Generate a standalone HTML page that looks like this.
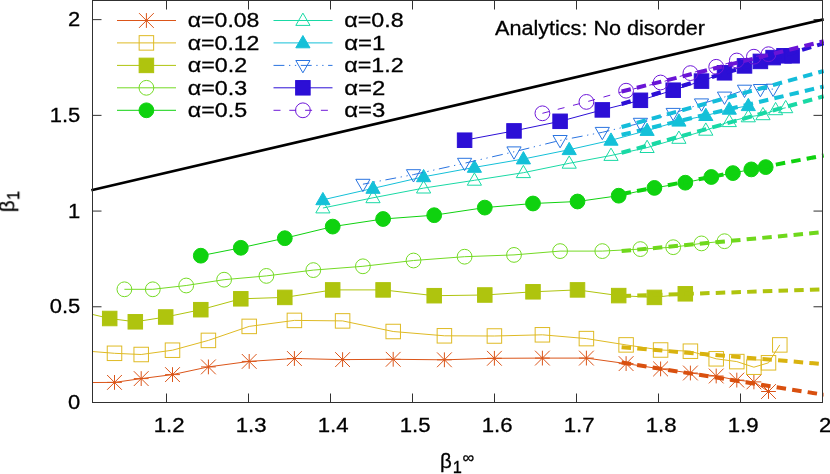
<!DOCTYPE html>
<html><head><meta charset="utf-8"><title>chart</title>
<style>html,body{margin:0;padding:0;background:#fff;}body{width:830px;height:474px;overflow:hidden;font-family:"Liberation Sans", sans-serif;}</style>
</head><body>
<svg width="830" height="474" viewBox="0 0 830 474" style="display:block;font-family:'Liberation Sans',sans-serif">
<rect width="830" height="474" fill="#fff"/>
<defs><mask id="mk" maskUnits="userSpaceOnUse" x="0" y="0" width="830" height="474"><rect width="830" height="474" fill="#fff"/></mask><clipPath id="cp2"><rect x="92.5" y="0.5" width="731.6" height="402.0"/></clipPath><clipPath id="cp"><rect x="92.5" y="0.5" width="730.0" height="402.0"/></clipPath></defs>
<g mask="url(#mk)">
<path d="M166.50 402.5V393.5M166.50 0.5V9.5M248.50 402.5V393.5M248.50 0.5V9.5M330.50 402.5V393.5M330.50 0.5V9.5M412.50 402.5V393.5M412.50 0.5V9.5M494.50 402.5V393.5M494.50 0.5V9.5M576.50 402.5V393.5M576.50 0.5V9.5M658.50 402.5V393.5M658.50 0.5V9.5M740.50 402.5V393.5M740.50 0.5V9.5M92.5 306.78H101.5M822.5 306.78H813.5M92.5 211.07H101.5M822.5 211.07H813.5M92.5 115.36H101.5M822.5 115.36H813.5M92.5 19.64H101.5M822.5 19.64H813.5" stroke="#303030" stroke-width="1" fill="none"/>
<text x="68.09" y="409.10" font-size="20.5" fill="#000" stroke="#000" stroke-width="0.3" textLength="12.21" lengthAdjust="spacingAndGlyphs">0</text>
<text x="49.77" y="313.38" font-size="20.5" fill="#000" stroke="#000" stroke-width="0.3" textLength="30.53" lengthAdjust="spacingAndGlyphs">0.5</text>
<text x="68.09" y="217.67" font-size="20.5" fill="#000" stroke="#000" stroke-width="0.3" textLength="12.21" lengthAdjust="spacingAndGlyphs">1</text>
<text x="49.77" y="121.96" font-size="20.5" fill="#000" stroke="#000" stroke-width="0.3" textLength="30.53" lengthAdjust="spacingAndGlyphs">1.5</text>
<text x="68.09" y="26.24" font-size="20.5" fill="#000" stroke="#000" stroke-width="0.3" textLength="12.21" lengthAdjust="spacingAndGlyphs">2</text>
<text x="153.68" y="432.00" font-size="20.5" fill="#000" stroke="#000" stroke-width="0.3" textLength="30.85" lengthAdjust="spacingAndGlyphs">1.2</text>
<text x="235.68" y="432.00" font-size="20.5" fill="#000" stroke="#000" stroke-width="0.3" textLength="30.85" lengthAdjust="spacingAndGlyphs">1.3</text>
<text x="317.68" y="432.00" font-size="20.5" fill="#000" stroke="#000" stroke-width="0.3" textLength="30.85" lengthAdjust="spacingAndGlyphs">1.4</text>
<text x="399.68" y="432.00" font-size="20.5" fill="#000" stroke="#000" stroke-width="0.3" textLength="30.85" lengthAdjust="spacingAndGlyphs">1.5</text>
<text x="481.68" y="432.00" font-size="20.5" fill="#000" stroke="#000" stroke-width="0.3" textLength="30.85" lengthAdjust="spacingAndGlyphs">1.6</text>
<text x="563.68" y="432.00" font-size="20.5" fill="#000" stroke="#000" stroke-width="0.3" textLength="30.85" lengthAdjust="spacingAndGlyphs">1.7</text>
<text x="645.68" y="432.00" font-size="20.5" fill="#000" stroke="#000" stroke-width="0.3" textLength="30.85" lengthAdjust="spacingAndGlyphs">1.8</text>
<text x="727.68" y="432.00" font-size="20.5" fill="#000" stroke="#000" stroke-width="0.3" textLength="30.85" lengthAdjust="spacingAndGlyphs">1.9</text>
<text x="818.93" y="432.00" font-size="20.5" fill="#000" stroke="#000" stroke-width="0.3" textLength="12.34" lengthAdjust="spacingAndGlyphs">2</text>
<text x="440" y="468.3" font-size="20.5" fill="#000" stroke="#000" stroke-width="0.3">β<tspan font-size="16.4" dx="1" dy="5">1</tspan><tspan font-size="16.4" dx="0.7" dy="-10.5">∞</tspan></text>
<text transform="translate(14.2 212.2) rotate(-90)" font-size="20.5" fill="#000" stroke="#000" stroke-width="0.3">β<tspan font-size="16" dx="0.5" dy="5.4">1</tspan></text>
<text x="495" y="35.4" font-size="20.5" fill="#000" stroke="#000" stroke-width="0.3" textLength="210" lengthAdjust="spacingAndGlyphs">Analytics: No disorder</text>
<g clip-path="url(#cp)">
</g>
<path d="M91.30 190.29L823.70 19.36" stroke="#000" stroke-width="2.7" fill="none"/>
<g clip-path="url(#cp2)">
<path d="M80.00 382.60L114.50 382.40L141.20 378.60L172.50 374.60L208.40 366.90L249.20 361.40L294.40 358.50L342.60 359.60L393.20 359.30L444.40 359.80L494.40 358.30L542.40 358.10L586.40 358.10L626.10 363.60L660.60 368.90L690.40 373.00L716.20 376.00L736.80 380.10L753.90 381.90L768.50 391.50" stroke="#db5519" stroke-width="1" fill="none"/>
<path d="M107.10 382.40H121.90M114.50 375.00V389.80M107.10 375.00L121.90 389.80M107.10 389.80L121.90 375.00" stroke="#db5519" stroke-width="1" fill="none"/>
<path d="M133.80 378.60H148.60M141.20 371.20V386.00M133.80 371.20L148.60 386.00M133.80 386.00L148.60 371.20" stroke="#db5519" stroke-width="1" fill="none"/>
<path d="M165.10 374.60H179.90M172.50 367.20V382.00M165.10 367.20L179.90 382.00M165.10 382.00L179.90 367.20" stroke="#db5519" stroke-width="1" fill="none"/>
<path d="M201.00 366.90H215.80M208.40 359.50V374.30M201.00 359.50L215.80 374.30M201.00 374.30L215.80 359.50" stroke="#db5519" stroke-width="1" fill="none"/>
<path d="M241.80 361.40H256.60M249.20 354.00V368.80M241.80 354.00L256.60 368.80M241.80 368.80L256.60 354.00" stroke="#db5519" stroke-width="1" fill="none"/>
<path d="M287.00 358.50H301.80M294.40 351.10V365.90M287.00 351.10L301.80 365.90M287.00 365.90L301.80 351.10" stroke="#db5519" stroke-width="1" fill="none"/>
<path d="M335.20 359.60H350.00M342.60 352.20V367.00M335.20 352.20L350.00 367.00M335.20 367.00L350.00 352.20" stroke="#db5519" stroke-width="1" fill="none"/>
<path d="M385.80 359.30H400.60M393.20 351.90V366.70M385.80 351.90L400.60 366.70M385.80 366.70L400.60 351.90" stroke="#db5519" stroke-width="1" fill="none"/>
<path d="M437.00 359.80H451.80M444.40 352.40V367.20M437.00 352.40L451.80 367.20M437.00 367.20L451.80 352.40" stroke="#db5519" stroke-width="1" fill="none"/>
<path d="M487.00 358.30H501.80M494.40 350.90V365.70M487.00 350.90L501.80 365.70M487.00 365.70L501.80 350.90" stroke="#db5519" stroke-width="1" fill="none"/>
<path d="M535.00 358.10H549.80M542.40 350.70V365.50M535.00 350.70L549.80 365.50M535.00 365.50L549.80 350.70" stroke="#db5519" stroke-width="1" fill="none"/>
<path d="M579.00 358.10H593.80M586.40 350.70V365.50M579.00 350.70L593.80 365.50M579.00 365.50L593.80 350.70" stroke="#db5519" stroke-width="1" fill="none"/>
<path d="M618.70 363.60H633.50M626.10 356.20V371.00M618.70 356.20L633.50 371.00M618.70 371.00L633.50 356.20" stroke="#db5519" stroke-width="1" fill="none"/>
<path d="M653.20 368.90H668.00M660.60 361.50V376.30M653.20 361.50L668.00 376.30M653.20 376.30L668.00 361.50" stroke="#db5519" stroke-width="1" fill="none"/>
<path d="M683.00 373.00H697.80M690.40 365.60V380.40M683.00 365.60L697.80 380.40M683.00 380.40L697.80 365.60" stroke="#db5519" stroke-width="1" fill="none"/>
<path d="M708.80 376.00H723.60M716.20 368.60V383.40M708.80 368.60L723.60 383.40M708.80 383.40L723.60 368.60" stroke="#db5519" stroke-width="1" fill="none"/>
<path d="M729.40 380.10H744.20M736.80 372.70V387.50M729.40 372.70L744.20 387.50M729.40 387.50L744.20 372.70" stroke="#db5519" stroke-width="1" fill="none"/>
<path d="M746.50 381.90H761.30M753.90 374.50V389.30M746.50 374.50L761.30 389.30M746.50 389.30L761.30 374.50" stroke="#db5519" stroke-width="1" fill="none"/>
<path d="M761.10 391.50H775.90M768.50 384.10V398.90M761.10 384.10L775.90 398.90M761.10 398.90L775.90 384.10" stroke="#db5519" stroke-width="1" fill="none"/>
<path d="M621.6 362.5L823.70 394.69" stroke="#d9500f" stroke-width="4" fill="none" stroke-dasharray="9.5 6.2"/>
<path d="M80.00 350.50L114.50 353.30L141.20 354.50L172.50 350.20L208.40 340.40L249.20 326.40L294.40 320.40L342.60 320.90L393.20 331.50L444.40 335.80L494.40 336.00L542.40 334.80L586.40 338.60L626.10 344.90L660.60 350.00L690.40 351.20L716.20 358.80L736.80 361.60L753.90 367.20L768.50 362.80L779.80 344.90" stroke="#dfba24" stroke-width="1" fill="none"/>
<rect x="107.25" y="346.05" width="14.50" height="14.50" stroke="#dfba24" stroke-width="1" fill="none"/>
<rect x="133.95" y="347.25" width="14.50" height="14.50" stroke="#dfba24" stroke-width="1" fill="none"/>
<rect x="165.25" y="342.95" width="14.50" height="14.50" stroke="#dfba24" stroke-width="1" fill="none"/>
<rect x="201.15" y="333.15" width="14.50" height="14.50" stroke="#dfba24" stroke-width="1" fill="none"/>
<rect x="241.95" y="319.15" width="14.50" height="14.50" stroke="#dfba24" stroke-width="1" fill="none"/>
<rect x="287.15" y="313.15" width="14.50" height="14.50" stroke="#dfba24" stroke-width="1" fill="none"/>
<rect x="335.35" y="313.65" width="14.50" height="14.50" stroke="#dfba24" stroke-width="1" fill="none"/>
<rect x="385.95" y="324.25" width="14.50" height="14.50" stroke="#dfba24" stroke-width="1" fill="none"/>
<rect x="437.15" y="328.55" width="14.50" height="14.50" stroke="#dfba24" stroke-width="1" fill="none"/>
<rect x="487.15" y="328.75" width="14.50" height="14.50" stroke="#dfba24" stroke-width="1" fill="none"/>
<rect x="535.15" y="327.55" width="14.50" height="14.50" stroke="#dfba24" stroke-width="1" fill="none"/>
<rect x="579.15" y="331.35" width="14.50" height="14.50" stroke="#dfba24" stroke-width="1" fill="none"/>
<rect x="618.85" y="337.65" width="14.50" height="14.50" stroke="#dfba24" stroke-width="1" fill="none"/>
<rect x="653.35" y="342.75" width="14.50" height="14.50" stroke="#dfba24" stroke-width="1" fill="none"/>
<rect x="683.15" y="343.95" width="14.50" height="14.50" stroke="#dfba24" stroke-width="1" fill="none"/>
<rect x="708.95" y="351.55" width="14.50" height="14.50" stroke="#dfba24" stroke-width="1" fill="none"/>
<rect x="729.55" y="354.35" width="14.50" height="14.50" stroke="#dfba24" stroke-width="1" fill="none"/>
<rect x="746.65" y="359.95" width="14.50" height="14.50" stroke="#dfba24" stroke-width="1" fill="none"/>
<rect x="761.25" y="355.55" width="14.50" height="14.50" stroke="#dfba24" stroke-width="1" fill="none"/>
<rect x="772.55" y="337.65" width="14.50" height="14.50" stroke="#dfba24" stroke-width="1" fill="none"/>
<path d="M621.6 347.2L823.70 364.10" stroke="#d9b30f" stroke-width="4" fill="none" stroke-dasharray="9.5 6.2"/>
<path d="M80.00 311.50L109.70 318.50L135.30 321.80L165.70 317.00L200.80 309.70L240.80 298.80L284.80 297.40L332.70 289.90L383.10 289.90L434.20 295.70L484.80 295.00L533.00 291.80L577.50 289.90L618.70 295.60L654.40 297.40L685.30 293.80" stroke="#afc40e" stroke-width="1" fill="none"/>
<rect x="102.45" y="311.25" width="14.50" height="14.50" stroke="#afc40e" stroke-width="1" fill="#afc40e"/>
<rect x="128.05" y="314.55" width="14.50" height="14.50" stroke="#afc40e" stroke-width="1" fill="#afc40e"/>
<rect x="158.45" y="309.75" width="14.50" height="14.50" stroke="#afc40e" stroke-width="1" fill="#afc40e"/>
<rect x="193.55" y="302.45" width="14.50" height="14.50" stroke="#afc40e" stroke-width="1" fill="#afc40e"/>
<rect x="233.55" y="291.55" width="14.50" height="14.50" stroke="#afc40e" stroke-width="1" fill="#afc40e"/>
<rect x="277.55" y="290.15" width="14.50" height="14.50" stroke="#afc40e" stroke-width="1" fill="#afc40e"/>
<rect x="325.45" y="282.65" width="14.50" height="14.50" stroke="#afc40e" stroke-width="1" fill="#afc40e"/>
<rect x="375.85" y="282.65" width="14.50" height="14.50" stroke="#afc40e" stroke-width="1" fill="#afc40e"/>
<rect x="426.95" y="288.45" width="14.50" height="14.50" stroke="#afc40e" stroke-width="1" fill="#afc40e"/>
<rect x="477.55" y="287.75" width="14.50" height="14.50" stroke="#afc40e" stroke-width="1" fill="#afc40e"/>
<rect x="525.75" y="284.55" width="14.50" height="14.50" stroke="#afc40e" stroke-width="1" fill="#afc40e"/>
<rect x="570.25" y="282.65" width="14.50" height="14.50" stroke="#afc40e" stroke-width="1" fill="#afc40e"/>
<rect x="611.45" y="288.35" width="14.50" height="14.50" stroke="#afc40e" stroke-width="1" fill="#afc40e"/>
<rect x="647.15" y="290.15" width="14.50" height="14.50" stroke="#afc40e" stroke-width="1" fill="#afc40e"/>
<rect x="678.05" y="286.55" width="14.50" height="14.50" stroke="#afc40e" stroke-width="1" fill="#afc40e"/>
<path d="M621.6 296.0L823.70 289.36" stroke="#afc40e" stroke-width="4" fill="none" stroke-dasharray="9.5 6.2"/>
<path d="M124.40 289.30L152.80 289.30L186.20 285.50L224.10 279.70L266.40 275.90L313.30 270.10L362.90 266.30L413.50 260.50L464.60 256.70L514.00 254.90L560.10 251.10L602.30 251.10L640.40 249.10L673.20 247.20L701.50 243.40L724.50 241.20" stroke="#74da24" stroke-width="1" fill="none"/>
<circle cx="124.40" cy="289.30" r="7.4" stroke="#74da24" stroke-width="1" fill="none"/>
<circle cx="152.80" cy="289.30" r="7.4" stroke="#74da24" stroke-width="1" fill="none"/>
<circle cx="186.20" cy="285.50" r="7.4" stroke="#74da24" stroke-width="1" fill="none"/>
<circle cx="224.10" cy="279.70" r="7.4" stroke="#74da24" stroke-width="1" fill="none"/>
<circle cx="266.40" cy="275.90" r="7.4" stroke="#74da24" stroke-width="1" fill="none"/>
<circle cx="313.30" cy="270.10" r="7.4" stroke="#74da24" stroke-width="1" fill="none"/>
<circle cx="362.90" cy="266.30" r="7.4" stroke="#74da24" stroke-width="1" fill="none"/>
<circle cx="413.50" cy="260.50" r="7.4" stroke="#74da24" stroke-width="1" fill="none"/>
<circle cx="464.60" cy="256.70" r="7.4" stroke="#74da24" stroke-width="1" fill="none"/>
<circle cx="514.00" cy="254.90" r="7.4" stroke="#74da24" stroke-width="1" fill="none"/>
<circle cx="560.10" cy="251.10" r="7.4" stroke="#74da24" stroke-width="1" fill="none"/>
<circle cx="602.30" cy="251.10" r="7.4" stroke="#74da24" stroke-width="1" fill="none"/>
<circle cx="640.40" cy="249.10" r="7.4" stroke="#74da24" stroke-width="1" fill="none"/>
<circle cx="673.20" cy="247.20" r="7.4" stroke="#74da24" stroke-width="1" fill="none"/>
<circle cx="701.50" cy="243.40" r="7.4" stroke="#74da24" stroke-width="1" fill="none"/>
<circle cx="724.50" cy="241.20" r="7.4" stroke="#74da24" stroke-width="1" fill="none"/>
<path d="M621.6 251.1L823.70 232.09" stroke="#6fd81c" stroke-width="4" fill="none" stroke-dasharray="9.5 6.2"/>
<path d="M200.80 255.70L240.80 247.80L284.80 238.20L332.70 226.60L383.10 219.00L434.20 215.20L484.80 207.60L533.00 203.50L577.50 201.50L618.70 195.70L654.40 187.90L685.30 182.70L711.30 177.00L732.90 173.10L751.30 169.40L765.70 167.10" stroke="#0fd20f" stroke-width="1" fill="none"/>
<circle cx="200.80" cy="255.70" r="7.4" stroke="#0fd20f" stroke-width="1" fill="#0fd20f"/>
<circle cx="240.80" cy="247.80" r="7.4" stroke="#0fd20f" stroke-width="1" fill="#0fd20f"/>
<circle cx="284.80" cy="238.20" r="7.4" stroke="#0fd20f" stroke-width="1" fill="#0fd20f"/>
<circle cx="332.70" cy="226.60" r="7.4" stroke="#0fd20f" stroke-width="1" fill="#0fd20f"/>
<circle cx="383.10" cy="219.00" r="7.4" stroke="#0fd20f" stroke-width="1" fill="#0fd20f"/>
<circle cx="434.20" cy="215.20" r="7.4" stroke="#0fd20f" stroke-width="1" fill="#0fd20f"/>
<circle cx="484.80" cy="207.60" r="7.4" stroke="#0fd20f" stroke-width="1" fill="#0fd20f"/>
<circle cx="533.00" cy="203.50" r="7.4" stroke="#0fd20f" stroke-width="1" fill="#0fd20f"/>
<circle cx="577.50" cy="201.50" r="7.4" stroke="#0fd20f" stroke-width="1" fill="#0fd20f"/>
<circle cx="618.70" cy="195.70" r="7.4" stroke="#0fd20f" stroke-width="1" fill="#0fd20f"/>
<circle cx="654.40" cy="187.90" r="7.4" stroke="#0fd20f" stroke-width="1" fill="#0fd20f"/>
<circle cx="685.30" cy="182.70" r="7.4" stroke="#0fd20f" stroke-width="1" fill="#0fd20f"/>
<circle cx="711.30" cy="177.00" r="7.4" stroke="#0fd20f" stroke-width="1" fill="#0fd20f"/>
<circle cx="732.90" cy="173.10" r="7.4" stroke="#0fd20f" stroke-width="1" fill="#0fd20f"/>
<circle cx="751.30" cy="169.40" r="7.4" stroke="#0fd20f" stroke-width="1" fill="#0fd20f"/>
<circle cx="765.70" cy="167.10" r="7.4" stroke="#0fd20f" stroke-width="1" fill="#0fd20f"/>
<path d="M621.6 194.0L823.70 155.47" stroke="#0fd20f" stroke-width="4" fill="none" stroke-dasharray="9.5 6.2"/>
<path d="M322.90 208.00L373.00 197.80L423.60 188.10L474.40 180.30L523.40 172.70L569.20 163.30L611.00 155.50L647.10 147.60L678.90 138.40L705.80 130.30L729.30 121.70L748.30 116.90L763.00 114.80L775.60 109.80L785.70 107.80" stroke="#19d9a5" stroke-width="1" fill="none"/>
<path d="M322.90 200.60L315.80 212.90L330.00 212.90Z" stroke="#19d9a5" stroke-width="1" fill="none"/>
<path d="M373.00 190.40L365.90 202.70L380.10 202.70Z" stroke="#19d9a5" stroke-width="1" fill="none"/>
<path d="M423.60 180.70L416.50 193.00L430.70 193.00Z" stroke="#19d9a5" stroke-width="1" fill="none"/>
<path d="M474.40 172.90L467.30 185.20L481.50 185.20Z" stroke="#19d9a5" stroke-width="1" fill="none"/>
<path d="M523.40 165.30L516.30 177.60L530.50 177.60Z" stroke="#19d9a5" stroke-width="1" fill="none"/>
<path d="M569.20 155.90L562.10 168.20L576.30 168.20Z" stroke="#19d9a5" stroke-width="1" fill="none"/>
<path d="M611.00 148.10L603.90 160.40L618.10 160.40Z" stroke="#19d9a5" stroke-width="1" fill="none"/>
<path d="M647.10 140.20L640.00 152.50L654.20 152.50Z" stroke="#19d9a5" stroke-width="1" fill="none"/>
<path d="M678.90 131.00L671.80 143.30L686.00 143.30Z" stroke="#19d9a5" stroke-width="1" fill="none"/>
<path d="M705.80 122.90L698.70 135.20L712.90 135.20Z" stroke="#19d9a5" stroke-width="1" fill="none"/>
<path d="M729.30 114.30L722.20 126.60L736.40 126.60Z" stroke="#19d9a5" stroke-width="1" fill="none"/>
<path d="M748.30 109.50L741.20 121.80L755.40 121.80Z" stroke="#19d9a5" stroke-width="1" fill="none"/>
<path d="M763.00 107.40L755.90 119.70L770.10 119.70Z" stroke="#19d9a5" stroke-width="1" fill="none"/>
<path d="M775.60 102.40L768.50 114.70L782.70 114.70Z" stroke="#19d9a5" stroke-width="1" fill="none"/>
<path d="M785.70 100.40L778.60 112.70L792.80 112.70Z" stroke="#19d9a5" stroke-width="1" fill="none"/>
<path d="M621.6 152.8L823.70 96.26" stroke="#19d9a5" stroke-width="4" fill="none" stroke-dasharray="9.5 6.2"/>
<path d="M322.90 199.80L373.00 188.40L423.60 176.80L474.40 167.40L523.40 159.00L569.20 149.70L611.00 140.30L647.10 130.50L678.90 121.20L705.80 115.60L729.30 109.30L748.30 105.70" stroke="#14c0d8" stroke-width="1" fill="none"/>
<path d="M322.90 192.40L315.80 204.70L330.00 204.70Z" stroke="#14c0d8" stroke-width="1" fill="#14c0d8"/>
<path d="M373.00 181.00L365.90 193.30L380.10 193.30Z" stroke="#14c0d8" stroke-width="1" fill="#14c0d8"/>
<path d="M423.60 169.40L416.50 181.70L430.70 181.70Z" stroke="#14c0d8" stroke-width="1" fill="#14c0d8"/>
<path d="M474.40 160.00L467.30 172.30L481.50 172.30Z" stroke="#14c0d8" stroke-width="1" fill="#14c0d8"/>
<path d="M523.40 151.60L516.30 163.90L530.50 163.90Z" stroke="#14c0d8" stroke-width="1" fill="#14c0d8"/>
<path d="M569.20 142.30L562.10 154.60L576.30 154.60Z" stroke="#14c0d8" stroke-width="1" fill="#14c0d8"/>
<path d="M611.00 132.90L603.90 145.20L618.10 145.20Z" stroke="#14c0d8" stroke-width="1" fill="#14c0d8"/>
<path d="M647.10 123.10L640.00 135.40L654.20 135.40Z" stroke="#14c0d8" stroke-width="1" fill="#14c0d8"/>
<path d="M678.90 113.80L671.80 126.10L686.00 126.10Z" stroke="#14c0d8" stroke-width="1" fill="#14c0d8"/>
<path d="M705.80 108.20L698.70 120.50L712.90 120.50Z" stroke="#14c0d8" stroke-width="1" fill="#14c0d8"/>
<path d="M729.30 101.90L722.20 114.20L736.40 114.20Z" stroke="#14c0d8" stroke-width="1" fill="#14c0d8"/>
<path d="M748.30 98.30L741.20 110.60L755.40 110.60Z" stroke="#14c0d8" stroke-width="1" fill="#14c0d8"/>
<path d="M621.6 134.8L823.70 86.51" stroke="#14c0d8" stroke-width="4" fill="none" stroke-dasharray="9.5 6.2"/>
<path d="M362.90 184.20L413.50 174.60L464.60 163.20L514.00 151.80L560.10 140.40L602.30 132.30L640.40 123.20L673.20 113.30L701.50 103.80L724.50 97.00L744.50 90.10L760.40 89.40L773.10 89.10" stroke="#2a74e0" stroke-width="1" fill="none" stroke-dasharray="10.9 4.6 1.3 4.6 1.3 4.6" stroke-dashoffset="4.4"/>
<path d="M362.90 191.60L355.80 179.30L370.00 179.30Z" stroke="#2a74e0" stroke-width="1" fill="none"/>
<path d="M413.50 182.00L406.40 169.70L420.60 169.70Z" stroke="#2a74e0" stroke-width="1" fill="none"/>
<path d="M464.60 170.60L457.50 158.30L471.70 158.30Z" stroke="#2a74e0" stroke-width="1" fill="none"/>
<path d="M514.00 159.20L506.90 146.90L521.10 146.90Z" stroke="#2a74e0" stroke-width="1" fill="none"/>
<path d="M560.10 147.80L553.00 135.50L567.20 135.50Z" stroke="#2a74e0" stroke-width="1" fill="none"/>
<path d="M602.30 139.70L595.20 127.40L609.40 127.40Z" stroke="#2a74e0" stroke-width="1" fill="none"/>
<path d="M640.40 130.60L633.30 118.30L647.50 118.30Z" stroke="#2a74e0" stroke-width="1" fill="none"/>
<path d="M673.20 120.70L666.10 108.40L680.30 108.40Z" stroke="#2a74e0" stroke-width="1" fill="none"/>
<path d="M701.50 111.20L694.40 98.90L708.60 98.90Z" stroke="#2a74e0" stroke-width="1" fill="none"/>
<path d="M724.50 104.40L717.40 92.10L731.60 92.10Z" stroke="#2a74e0" stroke-width="1" fill="none"/>
<path d="M744.50 97.50L737.40 85.20L751.60 85.20Z" stroke="#2a74e0" stroke-width="1" fill="none"/>
<path d="M760.40 96.80L753.30 84.50L767.50 84.50Z" stroke="#2a74e0" stroke-width="1" fill="none"/>
<path d="M773.10 96.50L766.00 84.20L780.20 84.20Z" stroke="#2a74e0" stroke-width="1" fill="none"/>
<path d="M621.6 127.0L823.70 70.97" stroke="#14bcda" stroke-width="4" fill="none" stroke-dasharray="9.5 6.2"/>
<path d="M464.60 140.20L514.00 130.90L560.10 121.30L602.30 109.90L640.40 100.30L673.20 90.20L701.50 81.10L724.50 72.80L744.50 65.90L760.40 61.40L773.10 57.60L784.00 55.80L792.10 55.80" stroke="#2c0fd6" stroke-width="1" fill="none"/>
<rect x="457.35" y="132.95" width="14.50" height="14.50" stroke="#2c0fd6" stroke-width="1" fill="#2c0fd6"/>
<rect x="506.75" y="123.65" width="14.50" height="14.50" stroke="#2c0fd6" stroke-width="1" fill="#2c0fd6"/>
<rect x="552.85" y="114.05" width="14.50" height="14.50" stroke="#2c0fd6" stroke-width="1" fill="#2c0fd6"/>
<rect x="595.05" y="102.65" width="14.50" height="14.50" stroke="#2c0fd6" stroke-width="1" fill="#2c0fd6"/>
<rect x="633.15" y="93.05" width="14.50" height="14.50" stroke="#2c0fd6" stroke-width="1" fill="#2c0fd6"/>
<rect x="665.95" y="82.95" width="14.50" height="14.50" stroke="#2c0fd6" stroke-width="1" fill="#2c0fd6"/>
<rect x="694.25" y="73.85" width="14.50" height="14.50" stroke="#2c0fd6" stroke-width="1" fill="#2c0fd6"/>
<rect x="717.25" y="65.55" width="14.50" height="14.50" stroke="#2c0fd6" stroke-width="1" fill="#2c0fd6"/>
<rect x="737.25" y="58.65" width="14.50" height="14.50" stroke="#2c0fd6" stroke-width="1" fill="#2c0fd6"/>
<rect x="753.15" y="54.15" width="14.50" height="14.50" stroke="#2c0fd6" stroke-width="1" fill="#2c0fd6"/>
<rect x="765.85" y="50.35" width="14.50" height="14.50" stroke="#2c0fd6" stroke-width="1" fill="#2c0fd6"/>
<rect x="776.75" y="48.55" width="14.50" height="14.50" stroke="#2c0fd6" stroke-width="1" fill="#2c0fd6"/>
<rect x="784.85" y="48.55" width="14.50" height="14.50" stroke="#2c0fd6" stroke-width="1" fill="#2c0fd6"/>
<path d="M621.6 104.0L823.70 43.44" stroke="#2c0fd6" stroke-width="4" fill="none" stroke-dasharray="9.5 6.2"/>
<path d="M542.40 113.30L586.40 101.90L626.10 90.70L660.60 82.50L690.40 73.10L716.20 66.80L736.80 60.50L753.90 56.70L768.50 54.20" stroke="#6e18d8" stroke-width="1" fill="none" stroke-dasharray="7 8.8"/>
<circle cx="542.40" cy="113.30" r="7.4" stroke="#6e18d8" stroke-width="1" fill="none"/>
<circle cx="586.40" cy="101.90" r="7.4" stroke="#6e18d8" stroke-width="1" fill="none"/>
<circle cx="626.10" cy="90.70" r="7.4" stroke="#6e18d8" stroke-width="1" fill="none"/>
<circle cx="660.60" cy="82.50" r="7.4" stroke="#6e18d8" stroke-width="1" fill="none"/>
<circle cx="690.40" cy="73.10" r="7.4" stroke="#6e18d8" stroke-width="1" fill="none"/>
<circle cx="716.20" cy="66.80" r="7.4" stroke="#6e18d8" stroke-width="1" fill="none"/>
<circle cx="736.80" cy="60.50" r="7.4" stroke="#6e18d8" stroke-width="1" fill="none"/>
<circle cx="753.90" cy="56.70" r="7.4" stroke="#6e18d8" stroke-width="1" fill="none"/>
<circle cx="768.50" cy="54.20" r="7.4" stroke="#6e18d8" stroke-width="1" fill="none"/>
<path d="M621.6 91.5L823.70 41.20" stroke="#6a14d6" stroke-width="4" fill="none" stroke-dasharray="9.5 6.2"/>
</g>
<path d="M117.0 20.5H176.0" stroke="#db5519" stroke-width="1" fill="none"/>
<path d="M139.00 20.50H153.80M146.40 13.10V27.90M139.00 13.10L153.80 27.90M139.00 27.90L153.80 13.10" stroke="#db5519" stroke-width="1" fill="none"/>
<text x="187.80" y="27.30" font-size="20.5" fill="#000" stroke="#000" stroke-width="0.3" textLength="71.63" lengthAdjust="spacingAndGlyphs">α=0.08</text>
<path d="M117.0 42.9H176.0" stroke="#dfba24" stroke-width="1" fill="none"/>
<rect x="139.15" y="35.65" width="14.50" height="14.50" stroke="#dfba24" stroke-width="1" fill="none"/>
<text x="187.80" y="49.70" font-size="20.5" fill="#000" stroke="#000" stroke-width="0.3" textLength="71.63" lengthAdjust="spacingAndGlyphs">α=0.12</text>
<path d="M117.0 65.4H176.0" stroke="#afc40e" stroke-width="1" fill="none"/>
<rect x="139.15" y="58.15" width="14.50" height="14.50" stroke="#afc40e" stroke-width="1" fill="#afc40e"/>
<text x="187.80" y="72.20" font-size="20.5" fill="#000" stroke="#000" stroke-width="0.3" textLength="59.39" lengthAdjust="spacingAndGlyphs">α=0.2</text>
<path d="M117.0 87.8H176.0" stroke="#74da24" stroke-width="1" fill="none"/>
<circle cx="146.40" cy="87.80" r="7.4" stroke="#74da24" stroke-width="1" fill="none"/>
<text x="187.80" y="94.60" font-size="20.5" fill="#000" stroke="#000" stroke-width="0.3" textLength="59.39" lengthAdjust="spacingAndGlyphs">α=0.3</text>
<path d="M117.0 110.3H176.0" stroke="#0fd20f" stroke-width="1" fill="none"/>
<circle cx="146.40" cy="110.30" r="7.4" stroke="#0fd20f" stroke-width="1" fill="#0fd20f"/>
<text x="187.80" y="117.10" font-size="20.5" fill="#000" stroke="#000" stroke-width="0.3" textLength="59.39" lengthAdjust="spacingAndGlyphs">α=0.5</text>
<path d="M273.5 20.5H332.5" stroke="#19d9a5" stroke-width="1" fill="none"/>
<path d="M302.90 13.10L295.80 25.40L310.00 25.40Z" stroke="#19d9a5" stroke-width="1" fill="none"/>
<text x="344.30" y="27.30" font-size="20.5" fill="#000" stroke="#000" stroke-width="0.3" textLength="59.39" lengthAdjust="spacingAndGlyphs">α=0.8</text>
<path d="M273.5 42.9H332.5" stroke="#14c0d8" stroke-width="1" fill="none"/>
<path d="M302.90 35.50L295.80 47.80L310.00 47.80Z" stroke="#14c0d8" stroke-width="1" fill="#14c0d8"/>
<text x="344.30" y="49.70" font-size="20.5" fill="#000" stroke="#000" stroke-width="0.3" textLength="41.04" lengthAdjust="spacingAndGlyphs">α=1</text>
<path d="M273.5 65.4H332.5" stroke="#2a74e0" stroke-width="1" fill="none" stroke-dasharray="10.9 4.6 1.3 4.6 1.3 4.6"/>
<path d="M302.90 72.80L295.80 60.50L310.00 60.50Z" stroke="#2a74e0" stroke-width="1" fill="none"/>
<text x="344.30" y="72.20" font-size="20.5" fill="#000" stroke="#000" stroke-width="0.3" textLength="59.39" lengthAdjust="spacingAndGlyphs">α=1.2</text>
<path d="M273.5 87.8H332.5" stroke="#2c0fd6" stroke-width="1" fill="none"/>
<rect x="295.65" y="80.55" width="14.50" height="14.50" stroke="#2c0fd6" stroke-width="1" fill="#2c0fd6"/>
<text x="344.30" y="94.60" font-size="20.5" fill="#000" stroke="#000" stroke-width="0.3" textLength="41.04" lengthAdjust="spacingAndGlyphs">α=2</text>
<path d="M273.5 110.3H332.5" stroke="#6e18d8" stroke-width="1" fill="none" stroke-dasharray="7 8.8"/>
<circle cx="302.90" cy="110.30" r="7.4" stroke="#6e18d8" stroke-width="1" fill="none"/>
<text x="344.30" y="117.10" font-size="20.5" fill="#000" stroke="#000" stroke-width="0.3" textLength="41.04" lengthAdjust="spacingAndGlyphs">α=3</text>
<rect x="92.5" y="0.5" width="730.0" height="402.0" stroke="#303030" stroke-width="1" fill="none"/>
</g>
</svg>
</body></html>
